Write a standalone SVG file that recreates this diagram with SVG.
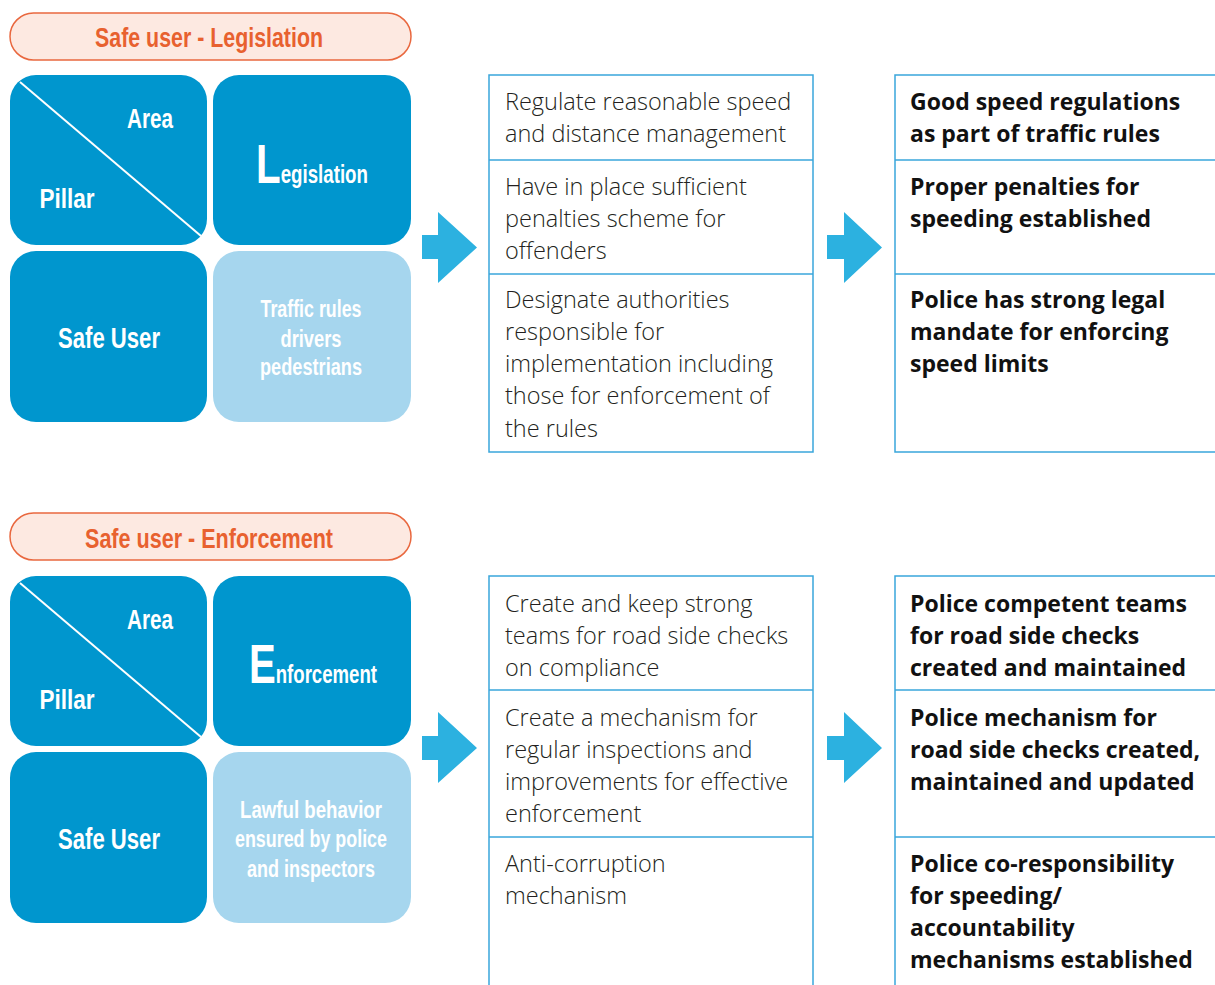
<svg xmlns="http://www.w3.org/2000/svg" width="1215" height="985" viewBox="0 0 1215 985">
<style>
.pill{fill:#FDE9E1;stroke:#E9683F;stroke-width:1.5}
.ptxt{font-family:"Liberation Sans",sans-serif;font-weight:bold;font-size:27px;fill:#E8612F;text-anchor:middle}
.dk{fill:#0096CE}
.lt{fill:#A6D6EE}
.wt{font-family:"Liberation Sans",sans-serif;font-weight:bold;fill:#fff}
.arrow{fill:#2CB1E0}
.tl{stroke:#3AA6DB;stroke-width:1.5;fill:none}
.mt{font-family:"Open Sans",sans-serif;font-weight:300;font-size:23.5px;fill:#231F20}
.rt{font-family:"Open Sans",sans-serif;font-weight:700;font-size:23px;fill:#111}
</style>
<rect width="1215" height="985" fill="#fff"/>

<!-- Section 1 -->
<g id="title1"><rect class="pill" x="10" y="13" width="401" height="47" rx="23.5"/><text class="ptxt" x="209" y="47" textLength="228" lengthAdjust="spacingAndGlyphs">Safe user - Legislation</text></g>
<g id="tile-area1"><rect class="dk" x="10" y="75" width="197" height="170" rx="26"/><line x1="20" y1="82" x2="201" y2="236" stroke="#fff" stroke-width="2"/><text class="wt" x="150" y="128" font-size="27" text-anchor="middle" textLength="46" lengthAdjust="spacingAndGlyphs">Area</text><text class="wt" x="67" y="208" font-size="27" text-anchor="middle" textLength="55" lengthAdjust="spacingAndGlyphs">Pillar</text></g>
<g id="tile-legislation"><rect class="dk" x="213" y="75" width="198" height="170" rx="26"/><text class="wt" x="256" y="183" textLength="112" lengthAdjust="spacingAndGlyphs"><tspan font-size="56">L</tspan><tspan font-size="26">egislation</tspan></text></g>
<g id="tile-safeuser1"><rect class="dk" x="10" y="251" width="197" height="171" rx="26"/><text class="wt" x="109" y="348" font-size="30" text-anchor="middle" textLength="102" lengthAdjust="spacingAndGlyphs">Safe User</text></g>
<g id="tile-traffic"><rect class="lt" x="213" y="251" width="198" height="171" rx="26"/><text class="wt" x="311" y="317" font-size="24" text-anchor="middle" textLength="101" lengthAdjust="spacingAndGlyphs">Traffic rules</text><text class="wt" x="311" y="347" font-size="24" text-anchor="middle" textLength="61" lengthAdjust="spacingAndGlyphs">drivers</text><text class="wt" x="311" y="375" font-size="24" text-anchor="middle" textLength="102" lengthAdjust="spacingAndGlyphs">pedestrians</text></g>

<g id="mid1">
<rect class="tl" x="489" y="75" width="324" height="377"/>
<line class="tl" x1="489" y1="160" x2="813" y2="160"/><line class="tl" x1="489" y1="274" x2="813" y2="274"/>
<text class="mt" x="505" y="110">Regulate reasonable speed</text>
<text class="mt" x="505" y="142">and distance management</text>
<text class="mt" x="505" y="195">Have in place sufficient</text>
<text class="mt" x="505" y="227">penalties scheme for</text>
<text class="mt" x="505" y="259">offenders</text>
<text class="mt" x="505" y="308">Designate authorities</text>
<text class="mt" x="505" y="340">responsible for</text>
<text class="mt" x="505" y="372">implementation including</text>
<text class="mt" x="505" y="404">those for enforcement of</text>
<text class="mt" x="505" y="437">the rules</text>
</g>
<g id="right1">
<path class="tl" d="M1215 75H895V452H1215M895 160H1215M895 274H1215"/>
<text class="rt" x="910" y="110">Good speed regulations</text>
<text class="rt" x="910" y="142">as part of traffic rules</text>
<text class="rt" x="910" y="195">Proper penalties for</text>
<text class="rt" x="910" y="227">speeding established</text>
<text class="rt" x="910" y="308">Police has strong legal</text>
<text class="rt" x="910" y="340">mandate for enforcing</text>
<text class="rt" x="910" y="372">speed limits</text>
</g>

<!-- Section 2 -->
<g id="title2"><rect class="pill" x="10" y="513" width="401" height="47" rx="23.5"/><text class="ptxt" x="209" y="548" textLength="248" lengthAdjust="spacingAndGlyphs">Safe user - Enforcement</text></g>
<g id="tile-area2"><rect class="dk" x="10" y="576" width="197" height="170" rx="26"/><line x1="20" y1="583" x2="201" y2="737" stroke="#fff" stroke-width="2"/><text class="wt" x="150" y="629" font-size="27" text-anchor="middle" textLength="46" lengthAdjust="spacingAndGlyphs">Area</text><text class="wt" x="67" y="709" font-size="27" text-anchor="middle" textLength="55" lengthAdjust="spacingAndGlyphs">Pillar</text></g>
<g id="tile-enforcement"><rect class="dk" x="213" y="576" width="198" height="170" rx="26"/><text class="wt" x="249" y="683" textLength="128" lengthAdjust="spacingAndGlyphs"><tspan font-size="56">E</tspan><tspan font-size="26">nforcement</tspan></text></g>
<g id="tile-safeuser2"><rect class="dk" x="10" y="752" width="197" height="171" rx="26"/><text class="wt" x="109" y="849" font-size="30" text-anchor="middle" textLength="102" lengthAdjust="spacingAndGlyphs">Safe User</text></g>
<g id="tile-lawful"><rect class="lt" x="213" y="752" width="198" height="171" rx="26"/><text class="wt" x="311" y="818" font-size="24" text-anchor="middle" textLength="142" lengthAdjust="spacingAndGlyphs">Lawful behavior</text><text class="wt" x="311" y="847" font-size="24" text-anchor="middle" textLength="152" lengthAdjust="spacingAndGlyphs">ensured by police</text><text class="wt" x="311" y="877" font-size="24" text-anchor="middle" textLength="128" lengthAdjust="spacingAndGlyphs">and inspectors</text></g>

<g id="mid2">
<path class="tl" d="M489 985V576H813V985M489 690H813M489 837H813"/>
<text class="mt" x="505" y="612">Create and keep strong</text>
<text class="mt" x="505" y="644">teams for road side checks</text>
<text class="mt" x="505" y="676">on compliance</text>
<text class="mt" x="505" y="726">Create a mechanism for</text>
<text class="mt" x="505" y="758">regular inspections and</text>
<text class="mt" x="505" y="790">improvements for effective</text>
<text class="mt" x="505" y="822">enforcement</text>
<text class="mt" x="505" y="872">Anti-corruption</text>
<text class="mt" x="505" y="904">mechanism</text>
</g>
<g id="right2">
<path class="tl" d="M895 985V576H1215M895 690H1215M895 837H1215"/>
<text class="rt" x="910" y="612">Police competent teams</text>
<text class="rt" x="910" y="644">for road side checks</text>
<text class="rt" x="910" y="676">created and maintained</text>
<text class="rt" x="910" y="726">Police mechanism for</text>
<text class="rt" x="910" y="758">road side checks created,</text>
<text class="rt" x="910" y="790">maintained and updated</text>
<text class="rt" x="910" y="872">Police co-responsibility</text>
<text class="rt" x="910" y="904">for speeding/</text>
<text class="rt" x="910" y="936">accountability</text>
<text class="rt" x="910" y="968">mechanisms established</text>
</g>

<g id="connectors">
<path class="arrow" d="M422 235H438V212L477 247.5L438 283V259H422Z"/>
<path class="arrow" d="M827 235H844V212L882 247.5L844 283V259H827Z"/>
<path class="arrow" d="M422 736H438V712L477 748L438 783V760H422Z"/>
<path class="arrow" d="M827 736H844V712L882 748L844 783V760H827Z"/>
</g>
</svg>
